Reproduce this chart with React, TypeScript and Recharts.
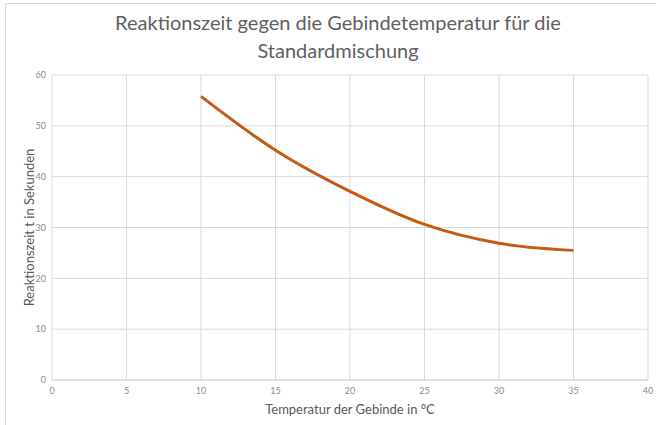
import { CartesianGrid, Line, LineChart, XAxis, YAxis, Label } from "recharts";

const temperatures = [10, 15, 20, 25, 30, 35];
const reactionTimes = [55.8, 45.2, 37.1, 30.6, 26.9, 25.5];
const xTicks = [0, 5, 10, 15, 20, 25, 30, 35, 40];
const yTicks = [0, 10, 20, 30, 40, 50, 60];

const data = temperatures.map((t, i) => ({ t, time: reactionTimes[i] }));

const font = "Lato, 'Open Sans', sans-serif";
const tickStyle = { fontSize: 9, fill: "#8c8c8c", fontFamily: font };

export default function App() {
  return (
    <div style={{ position: "absolute", left: 0, top: 0, width: 656, height: 425, background: "#fff" }}>
      <div
        style={{
          position: "absolute",
          left: 5,
          top: 3,
          width: 651,
          height: 422,
          borderTop: "1px solid #d9d9d9",
          borderLeft: "1px solid #d9d9d9",
          boxSizing: "border-box",
        }}
      />
      <div
        style={{
          position: "absolute",
          left: 40,
          width: 596,
          top: 8,
          textAlign: "center",
          fontFamily: font,
          fontSize: 20,
          lineHeight: "28px",
          color: "#5f5f5f",
        }}
      >
        Reaktionszeit gegen die Gebindetemperatur für die
        <br />
        Standardmischung
      </div>
      <div style={{ position: "absolute", left: 0, top: 0 }}>
        <LineChart
          width={656}
          height={425}
          data={data}
          margin={{ top: 75, right: 8, bottom: 15, left: 0 }}
        >
          <CartesianGrid stroke="#d9d9d9" strokeWidth={1} />
          <XAxis
            dataKey="t"
            type="number"
            domain={[0, 40]}
            ticks={xTicks}
            height={30}
            tickLine={false}
            axisLine={{ stroke: "#d9d9d9" }}
            tickSize={0}
            tickMargin={8}
            tick={tickStyle}
            interval={0}
          >
            <Label
              value="Temperatur der  Gebinde in °C"
              position="insideBottom"
              offset={-4}
              style={{ fontSize: 13, fill: "#595959", fontFamily: font, whiteSpace: "pre" }}
            />
          </XAxis>
          <YAxis
            type="number"
            domain={[0, 60]}
            ticks={yTicks}
            width={52}
            tickLine={false}
            axisLine={false}
            tickSize={0}
            tickMargin={6}
            tick={tickStyle}
            interval={0}
          >
            <Label
              value="Reaktionszeit  t in Sekunden"
              angle={-90}
              position="insideLeft"
              offset={29}
              style={{ fontSize: 13, fill: "#595959", fontFamily: font, textAnchor: "middle", whiteSpace: "pre" }}
            />
          </YAxis>
          <Line
            type="monotone"
            dataKey="time"
            stroke="#c55a11"
            strokeWidth={3}
            dot={false}
            isAnimationActive={false}
          />
        </LineChart>
      </div>
    </div>
  );
}
